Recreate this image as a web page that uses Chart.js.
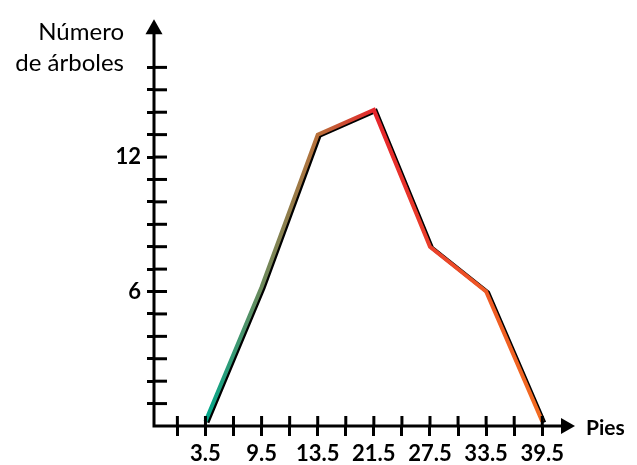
<!DOCTYPE html>
<html>
<head>
<meta charset="utf-8">
<script src="https://cdn.jsdelivr.net/npm/chart.js@4/dist/chart.umd.min.js"></script>
<style>
  html, body { margin: 0; padding: 0; background: #ffffff; }
  #wrap { width: 637px; height: 465px; position: relative; }
</style>
</head>
<body>
<div id="wrap"><canvas id="c" width="637" height="465"></canvas></div>
<script>
// ---- data ----
const classMarks = [3.5, 9.5, 15.5, 21.5, 27.5, 33.5, 39.5];
const xTickLabels = ['3.5', '9.5', '13.5', '21.5', '27.5', '33.5', '39.5'];
const treeCounts = [0.2, 6.2, 13, 14.1, 8, 6, 0.2];
const xMinorTicks = [0.5, 3.5, 6.5, 9.5, 12.5, 15.5, 18.5, 21.5, 24.5, 27.5, 30.5, 33.5, 36.5, 39.5];
const yTicks = [1, 2, 3, 4, 5, 6, 7, 8, 9, 10, 11, 12, 13, 14, 15, 16];
const yTickLabels = [6, 12];
const yTitle = ['Número', 'de árboles'];
const xTitle = 'Pies';

const FONT = 'Lato, "Open Sans", sans-serif';

const axisPlugin = {
  id: 'axisDecor',
  afterDraw(chart) {
    const ctx = chart.ctx;
    const xs = chart.scales.x, ys = chart.scales.y;
    const ca = chart.chartArea;
    const x0 = xs.getPixelForValue(xs.min);
    const y0 = ys.getPixelForValue(0);
    ctx.save();
    ctx.strokeStyle = '#000';
    ctx.fillStyle = '#000';
    ctx.lineWidth = 3;
    ctx.lineCap = 'butt';
    // axis lines
    ctx.beginPath();
    ctx.moveTo(x0, y0 + 1.5);
    ctx.lineTo(x0, ca.top + 10);
    ctx.moveTo(x0 - 1.5, y0);
    ctx.lineTo(ca.right - 10, y0);
    ctx.stroke();
    // inward tick parts
    ys.ticks.forEach((t, i) => {
      const p = ys.getPixelForTick(i);
      ctx.beginPath();
      ctx.moveTo(x0, p);
      ctx.lineTo(x0 + 13, p);
      ctx.stroke();
    });
    xs.ticks.forEach((t, i) => {
      const p = xs.getPixelForTick(i);
      ctx.beginPath();
      ctx.moveTo(p, y0);
      ctx.lineTo(p, y0 - 10);
      ctx.stroke();
    });
    // arrows
    ctx.beginPath();
    ctx.moveTo(x0, ca.top);
    ctx.lineTo(x0 - 8.5, ca.top + 15);
    ctx.lineTo(x0 + 8.5, ca.top + 15);
    ctx.closePath();
    ctx.fill();
    ctx.beginPath();
    ctx.moveTo(ca.right, y0);
    ctx.lineTo(ca.right - 14, y0 - 8);
    ctx.lineTo(ca.right - 14, y0 + 8);
    ctx.closePath();
    ctx.fill();
    // titles
    ctx.font = '24px ' + FONT;
    ctx.textAlign = 'right';
    ctx.textBaseline = 'alphabetic';
    ctx.fillText(yTitle[0], 124, 40);
    ctx.fillText(yTitle[1], 124, 71);
    ctx.font = 'bold 21px ' + FONT;
    ctx.textAlign = 'left';
    ctx.textBaseline = 'middle';
    ctx.fillText(xTitle, ca.right + 11, y0 + 2);
    ctx.restore();
  }
};

const shadowPlugin = {
  id: 'lineShadow',
  beforeDatasetDraw(chart) {
    const ctx = chart.ctx;
    ctx.save();
    ctx.shadowColor = '#000';
    ctx.shadowOffsetX = 2;
    ctx.shadowOffsetY = 1;
    ctx.shadowBlur = 0;
  },
  afterDatasetDraw(chart) {
    chart.ctx.restore();
  }
};

function lineGradient(context) {
  const chart = context.chart;
  const ca = chart.chartArea;
  if (!ca) return '#e8262c';
  const xs = chart.scales.x;
  const a = xs.getPixelForValue(classMarks[0]);
  const b = xs.getPixelForValue(classMarks[classMarks.length - 1]);
  const g = chart.ctx.createLinearGradient(a, 0, b, 0);
  const f = v => (xs.getPixelForValue(v) - a) / (b - a);
  g.addColorStop(0, '#00a88c');
  g.addColorStop(f(9.5), '#6c8a5c');
  g.addColorStop(f(15.5), '#b8703a');
  g.addColorStop(f(21.5), '#e6262c');
  g.addColorStop(f(27.5), '#ea3f2b');
  g.addColorStop(f(33.5), '#ef5a24');
  g.addColorStop(1, '#f26c22');
  return g;
}

new Chart(document.getElementById('c'), {
  type: 'line',
  data: {
    datasets: [{
      data: classMarks.map((x, i) => ({ x: x, y: treeCounts[i] })),
      borderColor: lineGradient,
      borderWidth: 4,
      pointRadius: 0,
      tension: 0,
      fill: false,
      borderJoinStyle: 'miter',
      borderCapStyle: 'butt'
    }]
  },
  plugins: [shadowPlugin, axisPlugin],
  options: {
    responsive: false,
    animation: false,
    devicePixelRatio: 1,
    layout: { padding: { top: 13, right: 62, left: 0, bottom: 0 } },
    plugins: { legend: { display: false }, tooltip: { enabled: false } },
    scales: {
      x: {
        type: 'linear',
        min: -2,
        max: 43,
        afterBuildTicks(scale) { scale.ticks = xMinorTicks.map(v => ({ value: v })); },
        afterFit(scale) { scale.height = 39; },
        border: { display: false },
        grid: { drawOnChartArea: false, drawTicks: true, tickLength: 10, color: '#000', lineWidth: 3 },
        ticks: {
          autoSkip: false,
          maxRotation: 0,
          padding: 5,
          color: '#000',
          font: { family: FONT, size: 22, weight: 'bold' },
          callback(v) {
            const i = classMarks.indexOf(v);
            return i >= 0 ? xTickLabels[i] : '';
          }
        }
      },
      y: {
        type: 'linear',
        min: 0,
        max: 18.15,
        afterBuildTicks(scale) { scale.ticks = yTicks.map(v => ({ value: v })); },
        afterFit(scale) { scale.width = 154; },
        border: { display: false },
        grid: { drawOnChartArea: false, drawTicks: true, tickLength: 7, color: '#000', lineWidth: 3 },
        ticks: {
          autoSkip: false,
          padding: 6,
          color: '#000',
          font: { family: FONT, size: 22, weight: 'bold' },
          callback(v) { return yTickLabels.includes(v) ? String(v) : ''; }
        }
      }
    }
  }
});
</script>
</body>
</html>
